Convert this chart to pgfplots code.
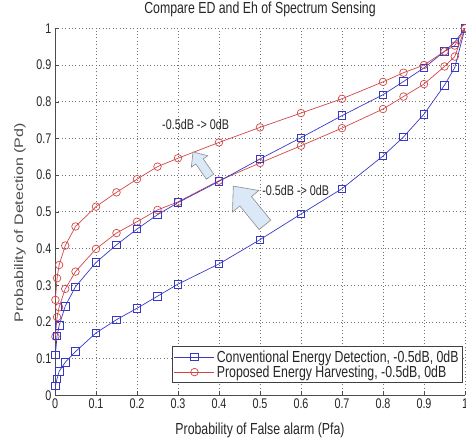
\documentclass[border=0pt]{standalone}
\usepackage{fontspec}
\setmainfont[FakeStretch=0.77]{Liberation Sans}
\newfontfamily\plainfont{Liberation Sans}
\usepackage{pgfplots}
\pgfplotsset{compat=1.18}
\usetikzlibrary{calc}
\definecolor{edblue}{rgb}{0.22,0.22,0.78}
\definecolor{ehred}{rgb}{0.82,0.28,0.28}
\definecolor{arrfill}{rgb}{0.86,0.91,0.97}
\newcommand{\blockarrow}[6]{% x, y (tip, axis cs), angle, length, shaft half width, head half width
  \begin{scope}[shift={(axis cs:#1,#2)}, rotate=#3]
    \filldraw[draw=black!45, fill=arrfill, line width=0.6pt, line join=miter]
      (0pt,0pt) -- (-#6*1.15,#6) -- (-#6*1.15,#5) -- (-#4,#5) -- (-#4,-#5) -- (-#6*1.15,-#5) -- (-#6*1.15,-#6) -- cycle;
  \end{scope}}
\begin{document}
\begin{tikzpicture}
\begin{axis}[name=ax,
  scale only axis, width=410pt, height=367pt,
  xmin=0, xmax=1, ymin=0, ymax=1,
  xtick={0,0.1,...,1}, ytick={0,0.1,...,1},
  xticklabels={0,0.1,0.2,0.3,0.4,0.5,0.6,0.7,0.8,0.9,1},
  yticklabels={0,0.1,0.2,0.3,0.4,0.5,0.6,0.7,0.8,0.9,1},
  axis x line=bottom, axis y line=left,
  axis line style={-, black!70, line width=0.8pt},
  tick align=inside, major tick length=4pt,
  tick style={black!70},
  grid=major,
  major grid style={black!55, line width=0.6pt, dash pattern=on 0.8pt off 2.6pt},
  ticklabel style={font=\fontsize{14}{16}\selectfont, text=black!85},
  title={Compare ED and Eh of Spectrum Sensing},
  title style={font=\fontsize{16}{18}\selectfont, text=black!85, at={(axis description cs:0.5,1.0253)}, anchor=base},
  xlabel={Probability of False alarm (Pfa)},
  ylabel={\scalebox{1}[0.77]{\plainfont\fontsize{16}{18}\selectfont Probability of Detection (Pd)}},
  xlabel style={font=\fontsize{16}{18}\selectfont, text=black!85, at={(axis description cs:0.5,-0.106)}, anchor=base},
  ylabel style={text=black!70, at={(axis description cs:-0.0854,0.47)}, anchor=center},
  legend style={at={(0.995,0.0335)}, anchor=south east, draw=black!75, line width=0.7pt,
    font=\fontsize{16}{18}\selectfont, text=black!85, inner sep=2pt, row sep=-2pt},
  legend cell align=left,
  legend image code/.code={\draw[mark repeat=2,mark phase=2] plot coordinates {(0pt,0pt) (20pt,0pt) (40pt,0pt)};},
  every axis plot/.append style={line width=0.7pt},
]
\addplot[edblue, mark=square, mark size=3.8pt, mark options={solid, line width=0.7pt}] coordinates {
(0.001,0.026) (0.005,0.045) (0.01,0.065) (0.025,0.09) (0.05,0.119) (0.1,0.17) (0.15,0.206) (0.2,0.237) (0.25,0.27) (0.3,0.303) (0.4,0.358) (0.5,0.424) (0.6,0.494) (0.7,0.563) (0.8,0.652) (0.85,0.704) (0.9,0.766) (0.95,0.845) (0.975,0.893) (1,1)};
\addlegendentry{Conventional Energy Detection, -0.5dB, 0dB}
\addplot[ehred, mark=o, mark size=3.8pt, mark options={solid, line width=0.7pt}] coordinates {
(0.001,0.16) (0.005,0.213) (0.01,0.24) (0.025,0.29) (0.05,0.337) (0.1,0.399) (0.15,0.442) (0.2,0.473) (0.25,0.505) (0.3,0.527) (0.4,0.585) (0.5,0.633) (0.6,0.68) (0.7,0.728) (0.8,0.78) (0.85,0.814) (0.9,0.848) (0.95,0.896) (0.975,0.923) (1,1)};
\addlegendentry{Proposed Energy Harvesting, -0.5dB, 0dB}
\addplot[edblue, mark=square, mark size=3.8pt, mark options={solid, line width=0.7pt}, forget plot] coordinates {
(0.001,0.11) (0.005,0.162) (0.01,0.19) (0.025,0.243) (0.05,0.296) (0.1,0.362) (0.15,0.41) (0.2,0.453) (0.25,0.492) (0.3,0.525) (0.4,0.583) (0.5,0.644) (0.6,0.702) (0.7,0.762) (0.8,0.819) (0.85,0.855) (0.9,0.892) (0.95,0.937) (0.975,0.962) (1,1)};
\addplot[ehred, mark=o, mark size=3.8pt, mark options={solid, line width=0.7pt}, forget plot] coordinates {
(0.001,0.26) (0.005,0.319) (0.01,0.355) (0.025,0.408) (0.05,0.46) (0.1,0.514) (0.15,0.553) (0.2,0.589) (0.25,0.623) (0.3,0.646) (0.4,0.689) (0.5,0.73) (0.6,0.769) (0.7,0.808) (0.8,0.854) (0.85,0.879) (0.9,0.9) (0.95,0.937) (0.975,0.953) (1,1)};
\node[font=\fontsize{14}{16}\selectfont, text=black!85] at (axis cs:0.343,0.737) {-0.5dB -> 0dB};
\node[font=\fontsize{14}{16}\selectfont, text=black!85] at (axis cs:0.587,0.557) {-0.5dB -> 0dB};
\blockarrow{0.3366}{0.663}{124.7}{30pt}{4.5pt}{10pt}
\blockarrow{0.4349}{0.570}{129.2}{50pt}{7.5pt}{17pt}
\end{axis}
\pgfresetboundingbox
\useasboundingbox ($(ax.south west)+(-55pt,-42.7pt)$) rectangle ($(ax.north east)+(1pt,28.3pt)$);
\end{tikzpicture}
\end{document}
